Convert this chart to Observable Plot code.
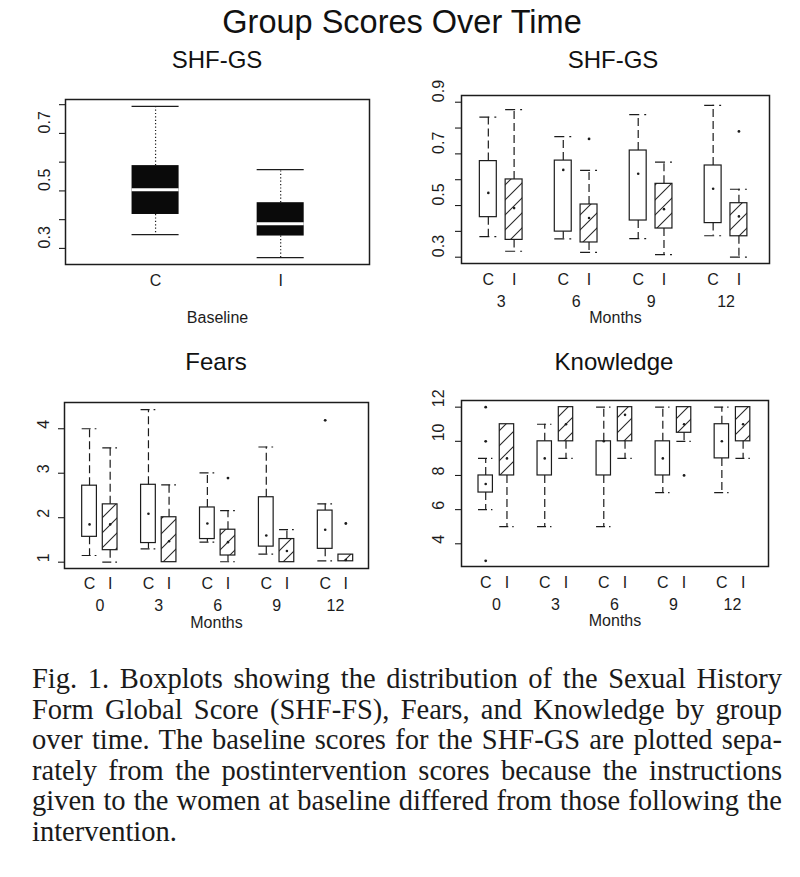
<!DOCTYPE html>
<html><head><meta charset="utf-8">
<script src="https://cdn.jsdelivr.net/npm/d3@7"></script>
<script src="https://cdn.jsdelivr.net/npm/@observablehq/plot@0.6"></script>
<style>
body{margin:0;background:#fff;}
#page{position:relative;width:800px;height:877px;background:#fff;font-family:'Liberation Sans',Arial,sans-serif;color:#111;overflow:hidden}
.ttl{position:absolute;text-align:center;line-height:1;white-space:nowrap;color:#111}
.panel{position:absolute}
#caption{position:absolute;left:32px;top:664px;width:750px;font-family:'Liberation Serif','Times New Roman',serif;font-size:28.5px;line-height:30.6px;color:#1a1a1a}
#caption div{white-space:nowrap}
</style></head><body>
<div id="page">
  <svg width="0" height="0" style="position:absolute">
    <defs>
      <pattern id="hatch" patternUnits="userSpaceOnUse" width="15" height="15">
        <path d="M-1,1 l2,-2 M0,15 l15,-15 M14,16 l2,-2" stroke="#2a2a2a" stroke-width="1.1"/>
      </pattern>
    </defs>
  </svg>
  <div class="ttl" id="mainTitle" style="left:0;width:804px;top:6px;font-size:32.5px"></div>
  <div class="ttl" id="t1" style="left:67px;width:300px;top:48px;font-size:24px"></div>
  <div class="ttl" id="t2" style="left:463px;width:300px;top:48px;font-size:24px"></div>
  <div class="ttl" id="t3" style="left:66px;width:300px;top:350px;font-size:24px"></div>
  <div class="ttl" id="t4" style="left:464px;width:300px;top:350px;font-size:24px"></div>
  <div class="panel" id="p1" style="left:0;top:80px"></div>
  <div class="panel" id="p2" style="left:400px;top:80px"></div>
  <div class="panel" id="p3" style="left:0;top:380px"></div>
  <div class="panel" id="p4" style="left:400px;top:380px"></div>
  <div id="caption"></div>
</div>
<script>
// ---------- Data (stats are [lower whisker, Q1, median, Q3, upper whisker]) ----------
const mainTitle = "Group Scores Over Time";
const panelTitles = ["SHF-GS", "SHF-GS", "Fears", "Knowledge"];

const baseGroups = ["C", "I"];
const baseStats = [
  [0.348, 0.418, 0.504, 0.588, 0.794],
  [0.268, 0.343, 0.386, 0.459, 0.574]
];
const baseTicks = [0.3, 0.4, 0.5, 0.6, 0.7, 0.8];
const baseTickLabels = [0.3, 0.5, 0.7];

const shfMonths = [3, 6, 9, 12];
const shfC = [
  [0.380, 0.455, 0.549, 0.672, 0.842],
  [0.371, 0.399, 0.638, 0.674, 0.767],
  [0.372, 0.442, 0.623, 0.713, 0.852],
  [0.383, 0.432, 0.565, 0.655, 0.888]
];
const shfI = [
  [0.323, 0.367, 0.490, 0.601, 0.871],
  [0.319, 0.357, 0.452, 0.504, 0.636],
  [0.310, 0.411, 0.486, 0.584, 0.668],
  [0.300, 0.381, 0.458, 0.509, 0.563]
];
const shfOutliers = [
  {month: 6, group: "I", value: 0.758},
  {month: 12, group: "I", value: 0.787}
];
const shfTicks = [0.3, 0.4, 0.5, 0.6, 0.7, 0.8, 0.9];
const shfTickLabels = [0.3, 0.5, 0.7, 0.9];

const fearMonths = [0, 3, 6, 9, 12];
const fearC = [
  [1.15, 1.57, 1.85, 2.72, 4.00],
  [1.30, 1.43, 2.09, 2.74, 4.43],
  [1.45, 1.52, 1.87, 2.23, 3.01],
  [1.18, 1.35, 1.60, 2.46, 3.59],
  [1.03, 1.30, 1.73, 2.16, 2.31]
];
const fearI = [
  [1.00, 1.27, 1.85, 2.30, 3.57],
  [1.00, 1.00, 1.47, 2.01, 2.74],
  [1.01, 1.15, 1.45, 1.73, 2.16],
  [1.00, 1.00, 1.25, 1.52, 1.73],
  [1.02, 1.02, 1.05, 1.17, 1.17]
];
const fearOutliers = [
  {month: 6, group: "I", value: 2.89},
  {month: 12, group: "C", value: 4.19},
  {month: 12, group: "I", value: 1.87}
];
const fearTicks = [1, 2, 3, 4];

const knowMonths = [0, 3, 6, 9, 12];
const knowC = [
  [6, 7, 7.5, 8, 9],
  [5, 8, 9, 10, 11],
  [5, 8, 10, 10, 12],
  [7, 8, 9, 10, 12],
  [7, 9, 10, 11, 12]
];
const knowI = [
  [5, 8, 9, 11, 11],
  [9, 10, 11, 12, 12],
  [9, 10, 11.55, 12, 12],
  [10, 10.5, 11, 12, 12],
  [9, 10, 11, 12, 12]
];
const knowOutliers = [
  {month: 0, group: "C", value: 12},
  {month: 0, group: "C", value: 10},
  {month: 0, group: "C", value: 3},
  {month: 9, group: "I", value: 8}
];
const knowTicks = [4, 6, 8, 10, 12];

const captionLines = [
  "Fig. 1. Boxplots showing the distribution of the Sexual History",
  "Form Global Score (SHF-FS), Fears, and Knowledge by group",
  "over time. The baseline scores for the SHF-GS are plotted sepa-",
  "rately from the postintervention scores because the instructions",
  "given to the women at baseline differed from those following the",
  "intervention."
];

// ---------- Helpers ----------
const toRow = (s, extra) => Object.assign({lo: s[0], q1: s[1], med: s[2], q3: s[3], hi: s[4]}, extra);

function rowsFor(months, cStats, iStats, off) {
  const rows = [];
  months.forEach((m, i) => {
    rows.push(toRow(cStats[i], {month: m, idx: i, group: "C", x: i - off}));
    rows.push(toRow(iStats[i], {month: m, idx: i, group: "I", x: i + off}));
  });
  return rows;
}
function outRows(months, outs, off) {
  return outs.map(o => ({...o, x: months.indexOf(o.month) + (o.group === "C" ? -off : off)}));
}

const ink = "#1c1c1c";
const fontFam = "'Liberation Sans', Arial, sans-serif";
const fs = 16;

function drawPanel(cfg) {
  const {rows, outs = [], half, xDomain, yDomain, ticks, tickLabels, fmt, labelDx,
         months, groupDy, monthDy, axisTitle, axisDy, margins, solid,
         whiskerDash, capDash} = cfg;
  const marks = [];
  const upper = rows.filter(d => d.hi > d.q3);
  const lower = rows.filter(d => d.lo < d.q1);
  if (solid) {
    marks.push(Plot.ruleX(upper, {x: "x", y1: "q3", y2: "hi", stroke: ink, strokeWidth: 1.2, strokeDasharray: whiskerDash}));
    marks.push(Plot.ruleX(lower, {x: "x", y1: "q1", y2: "lo", stroke: ink, strokeWidth: 1.2, strokeDasharray: whiskerDash}));
    marks.push(Plot.ruleY(upper, {y: "hi", x1: d => d.x - half, x2: d => d.x + half, stroke: ink, strokeWidth: 1.4}));
    marks.push(Plot.ruleY(lower, {y: "lo", x1: d => d.x - half, x2: d => d.x + half, stroke: ink, strokeWidth: 1.4}));
    marks.push(Plot.rect(rows, {x1: d => d.x - half, x2: d => d.x + half, y1: "q1", y2: "q3", fill: "#0a0a0a"}));
    marks.push(Plot.ruleY(rows, {y: "med", x1: d => d.x - half, x2: d => d.x + half, stroke: "white", strokeWidth: 3}));
  } else {
    const C = rows.filter(d => d.group === "C");
    const I = rows.filter(d => d.group === "I");
    marks.push(Plot.rect(C, {x1: d => d.x - half, x2: d => d.x + half, y1: "q1", y2: "q3", fill: "white", stroke: ink, strokeWidth: 1.2}));
    marks.push(Plot.rect(I, {x1: d => d.x - half, x2: d => d.x + half, y1: "q1", y2: "q3", fill: "url(#hatch)", stroke: ink, strokeWidth: 1.2}));
    marks.push(Plot.ruleX(upper, {x: "x", y1: "q3", y2: "hi", stroke: ink, strokeWidth: 1.2, strokeDasharray: whiskerDash}));
    marks.push(Plot.ruleX(lower, {x: "x", y1: "q1", y2: "lo", stroke: ink, strokeWidth: 1.2, strokeDasharray: whiskerDash}));
    marks.push(Plot.ruleY(upper, {y: "hi", x1: d => d.x - half, x2: d => d.x + half, stroke: ink, strokeWidth: 1.2, strokeDasharray: capDash}));
    marks.push(Plot.ruleY(lower, {y: "lo", x1: d => d.x - half, x2: d => d.x + half, stroke: ink, strokeWidth: 1.2, strokeDasharray: capDash}));
    marks.push(Plot.dot(rows, {x: "x", y: "med", r: 1.3, fill: ink, stroke: null}));
    marks.push(Plot.dot(outs, {x: "x", y: "value", r: 1.4, fill: ink, stroke: null}));
  }
  marks.push(Plot.frame({stroke: ink, strokeWidth: 1.5}));
  marks.push(Plot.axisY({ticks, tickSize: 6, tickFormat: () => "", stroke: ink, strokeWidth: 1.1}));
  marks.push(Plot.text(tickLabels, {y: d => d, text: d => fmt(d), frameAnchor: "left", dx: labelDx, rotate: -90, fontSize: fs, fill: ink}));
  marks.push(Plot.text(rows, {x: "x", text: "group", frameAnchor: "bottom", dy: groupDy, lineAnchor: "middle", fontSize: fs, fill: ink}));
  if (months) {
    marks.push(Plot.text(months, {x: (d, i) => i, text: d => String(d), frameAnchor: "bottom", dy: monthDy, lineAnchor: "middle", fontSize: fs, fill: ink}));
  }
  marks.push(Plot.text([axisTitle], {text: d => d, frameAnchor: "bottom", dy: axisDy, lineAnchor: "middle", fontSize: fs, fill: ink}));
  return Plot.plot({
    width: 400, height: 260,
    marginLeft: margins[0], marginRight: margins[1], marginTop: margins[2], marginBottom: margins[3],
    x: {domain: xDomain, axis: null},
    y: {domain: yDomain},
    style: {fontFamily: fontFam, background: "white", overflow: "visible", color: ink},
    marks
  });
}

// ---------- Titles ----------
document.getElementById("mainTitle").textContent = mainTitle;
["t1", "t2", "t3", "t4"].forEach((id, i) => document.getElementById(id).textContent = panelTitles[i]);

// ---------- Panels ----------
const baseRows = baseGroups.map((g, i) => toRow(baseStats[i], {group: g, x: i}));
document.getElementById("p1").append(drawPanel({
  rows: baseRows, half: 0.188, xDomain: [-0.72, 1.71], yDomain: [0.244, 0.818],
  ticks: baseTicks, tickLabels: baseTickLabels, fmt: d => d.toFixed(1), labelDx: -21,
  groupDy: 16, axisTitle: "Baseline", axisDy: 53, margins: [65, 31, 19, 76],
  solid: true, whiskerDash: "1.2,2.2"
}));

const off2 = 0.172;
document.getElementById("p2").append(drawPanel({
  rows: rowsFor(shfMonths, shfC, shfI, off2), outs: outRows(shfMonths, shfOutliers, off2),
  half: 0.113, xDomain: [-0.53, 3.58], yDomain: [0.2756, 0.926],
  ticks: shfTicks, tickLabels: shfTickLabels, fmt: d => d.toFixed(1), labelDx: -23,
  months: shfMonths, groupDy: 16, monthDy: 38, axisTitle: "Months", axisDy: 54,
  margins: [61, 31, 15, 77], whiskerDash: "8,4", capDash: "10,5"
}));

const off3 = 0.175;
document.getElementById("p3").append(drawPanel({
  rows: rowsFor(fearMonths, fearC, fearI, off3), outs: outRows(fearMonths, fearOutliers, off3),
  half: 0.125, xDomain: [-0.6, 4.56], yDomain: [0.858, 4.59],
  ticks: fearTicks, tickLabels: fearTicks, fmt: d => String(d), labelDx: -21,
  months: fearMonths, groupDy: 15, monthDy: 37, axisTitle: "Months", axisDy: 54,
  margins: [64, 32, 22, 72], whiskerDash: "8,4", capDash: "9,4"
}));

const off4 = 0.18;
document.getElementById("p4").append(drawPanel({
  rows: rowsFor(knowMonths, knowC, knowI, off4), outs: outRows(knowMonths, knowOutliers, off4),
  half: 0.122, xDomain: [-0.59, 4.61], yDomain: [2.67, 12.39],
  ticks: knowTicks, tickLabels: knowTicks, fmt: d => String(d), labelDx: -23,
  months: knowMonths, groupDy: 16, monthDy: 38, axisTitle: "Months", axisDy: 54,
  margins: [61, 32, 20, 74], whiskerDash: "8,4", capDash: "9,4"
}));

// ---------- Caption (justified lines) ----------
const cap = document.getElementById("caption");
captionLines.forEach((line, i) => {
  const div = document.createElement("div");
  const span = document.createElement("span");
  span.textContent = line;
  div.append(span);
  cap.append(div);
  if (i < captionLines.length - 1) {
    const natural = span.getBoundingClientRect().width;
    const spaces = (line.match(/ /g) || []).length;
    if (spaces > 0) span.style.wordSpacing = ((750 - natural) / spaces) + "px";
  }
});
</script>
</body></html>
